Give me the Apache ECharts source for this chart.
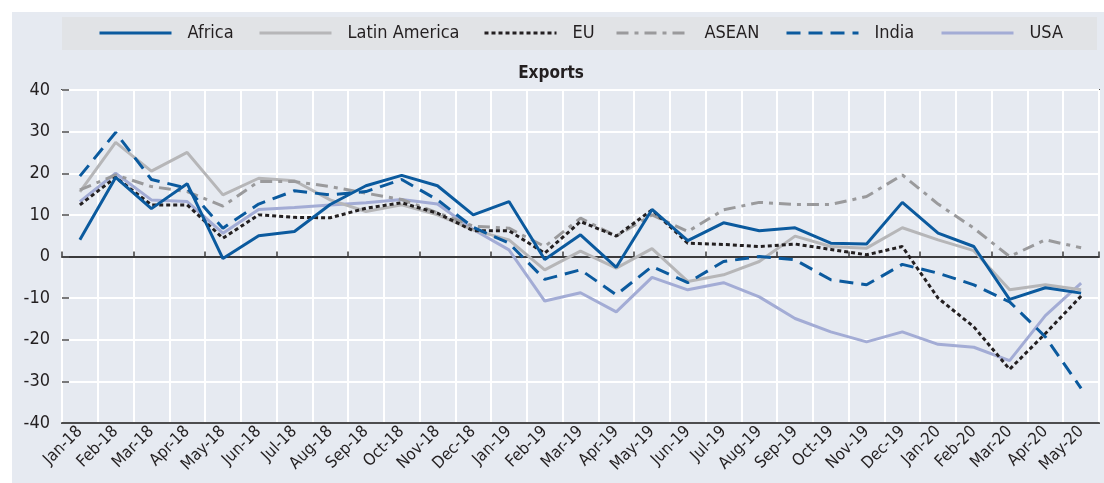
<!DOCTYPE html>
<html><head><meta charset="utf-8">
<script src="https://cdn.jsdelivr.net/npm/echarts@6/dist/echarts.min.js"></script>
<style>html,body{margin:0;padding:0;background:#fff}#c{width:1104px;height:483px}</style>
</head><body><div id="c"></div>
<script>
const categories = ['Jan-18','Feb-18','Mar-18','Apr-18','May-18','Jun-18','Jul-18','Aug-18','Sep-18','Oct-18','Nov-18','Dec-18',
 'Jan-19','Feb-19','Mar-19','Apr-19','May-19','Jun-19','Jul-19','Aug-19','Sep-19','Oct-19','Nov-19','Dec-19',
 'Jan-20','Feb-20','Mar-20','Apr-20','May-20'];
const africa   = [4, 19, 11.5, 17.5, -0.5, 5, 6, 12.5, 17, 19.5, 17, 10, 13.2, -0.7, 5.2, -2.6, 11.3, 3.8, 8.1, 6.2, 6.9, 3.2, 3.0, 13.0, 5.6, 2.4, -10.3, -7.5, -8.8];
const latinAmerica = [15.5, 27.4, 20.5, 25.0, 14.8, 18.8, 18.2, 13.6, 10.8, 12.4, 10, 6.4, 4.0, -3.2, 1.3, -2.8, 1.9, -6.0, -4.4, -1.2, 4.9, 2.4, 2.0, 6.9, 4.0, 1.4, -8.0, -6.8, -8.0];
const eu       = [12.4, 19.0, 12.4, 12.4, 4.4, 10.0, 9.4, 9.3, 11.6, 12.9, 10.4, 6.2, 6.2, 0.8, 8.4, 4.9, 11.2, 3.2, 2.9, 2.4, 3.0, 1.7, 0.4, 2.4, -10.0, -16.9, -27.1, -18.5, -9.5];
const asean    = [16.0, 19.6, 16.8, 15.6, 12.1, 18.0, 18.0, 16.8, 15.2, 13.7, 10.5, 7.3, 6.8, 2.4, 9.2, 4.9, 10.0, 6.0, 11.2, 13.0, 12.5, 12.5, 14.4, 19.6, 12.6, 6.8, 0.0, 4.0, 2.1];
const india    = [19.3, 29.8, 18.5, 16.4, 6.8, 12.6, 15.8, 14.8, 15.6, 18.5, 13.6, 7.0, 3.2, -5.5, -3.2, -9.2, -2.4, -6.3, -1.2, 0.0, -0.8, -5.6, -6.8, -1.9, -4.0, -6.8, -10.9, -19.3, -31.7];
const usa      = [13.2, 20.0, 13.6, 13.2, 5.6, 11.3, 11.8, 12.4, 12.9, 13.7, 12.6, 6.5, 1.6, -10.7, -8.7, -13.3, -5.0, -8.0, -6.3, -9.7, -14.9, -18.1, -20.5, -18.1, -21.1, -21.8, -25.0, -14.2, -6.4];
const seriesNames = ['Africa', 'Latin America', 'EU', 'ASEAN', 'India', 'USA'];
const yTicks = [-40, -30, -20, -10, 0, 10, 20, 30, 40];

const FONT = '"Liberation Sans Narrow", "DejaVu Sans Condensed", "Arial Narrow", sans-serif';
const TXT = '#231f20';
const BLUE = '#0b5a9e';
const legendLeft = [98, 258, 483, 615, 785, 940];

function mk(name, data, color, type, width, z) {
  return { name, type: 'line', data, symbol: 'none', z: z || 2,
    lineStyle: { color, width: width || 3, type: type || 'solid' },
    itemStyle: { color } };
}

const chart = echarts.init(document.getElementById('c'), null, { renderer: 'canvas' });
chart.setOption({
  animation: false,
  textStyle: { fontFamily: FONT },
  graphic: [
    { type: 'rect', shape: { x: 12, y: 12, width: 1092, height: 471 }, style: { fill: '#e6eaf1' }, z: -10, silent: true },
    { type: 'rect', shape: { x: 62, y: 17, width: 1035, height: 33 }, style: { fill: '#e1e3e6' }, z: -9, silent: true }
  ],
  title: { text: 'Exports', left: 546, top: 60, textAlign: 'center',
    textStyle: { fontFamily: FONT, fontSize: 17, fontWeight: 'bold', color: TXT } },
  legend: seriesNames.map((n, i) => ({
    left: legendLeft[i], top: 24, padding: 0, itemWidth: 72, itemHeight: 12,
    itemStyle: { opacity: 0 }, lineStyle: { width: 3 },
    textStyle: { fontFamily: FONT, fontSize: 18, color: TXT, padding: [0, 0, 0, 11] },
    data: [n]
  })),
  grid: { left: 62, right: 5, top: 90, bottom: 60, show: true, borderColor: '#4d4d4f', borderWidth: 2, backgroundColor: 'transparent' },
  xAxis: [
    { type: 'category', data: categories, boundaryGap: true, position: 'bottom',
      axisLine: { show: true, onZero: false, lineStyle: { color: '#4d4d4f', width: 2 } },
      axisTick: { show: false },
      splitLine: { show: true, lineStyle: { color: '#ffffff', width: 2 } },
      axisLabel: { rotate: 45, interval: 0, fontFamily: FONT, fontSize: 16.5, color: TXT, margin: 6 } },
    { type: 'category', data: categories, boundaryGap: true, position: 'bottom',
      axisLine: { show: true, onZero: true, lineStyle: { color: '#3a3a3c', width: 2 } },
      axisTick: { show: true, inside: true, length: 5, lineStyle: { color: '#3a3a3c', width: 1.5 } },
      splitLine: { show: false }, axisLabel: { show: false } }
  ],
  yAxis: { type: 'value', min: -40, max: 40, interval: 10,
    axisLine: { show: false },
    axisTick: { show: true, inside: true, length: 7, lineStyle: { color: '#4d4d4f', width: 1.5 } },
    splitLine: { show: true, lineStyle: { color: '#ffffff', width: 2 } },
    axisLabel: { fontFamily: FONT, fontSize: 18, color: TXT, margin: 12,
      customValues: yTicks } },
  series: [
    mk('Africa', africa, BLUE, 'solid', 3, 6),
    mk('Latin America', latinAmerica, '#b6b6b8', 'solid', 3, 2),
    mk('EU', eu, '#231f20', [4, 3], 3, 4),
    mk('ASEAN', asean, '#9a9a9c', [12, 6, 4, 6], 3, 3),
    mk('India', india, BLUE, [14, 8], 3, 5),
    mk('USA', usa, '#a3acd5', 'solid', 3, 1)
  ]
});
</script></body></html>
